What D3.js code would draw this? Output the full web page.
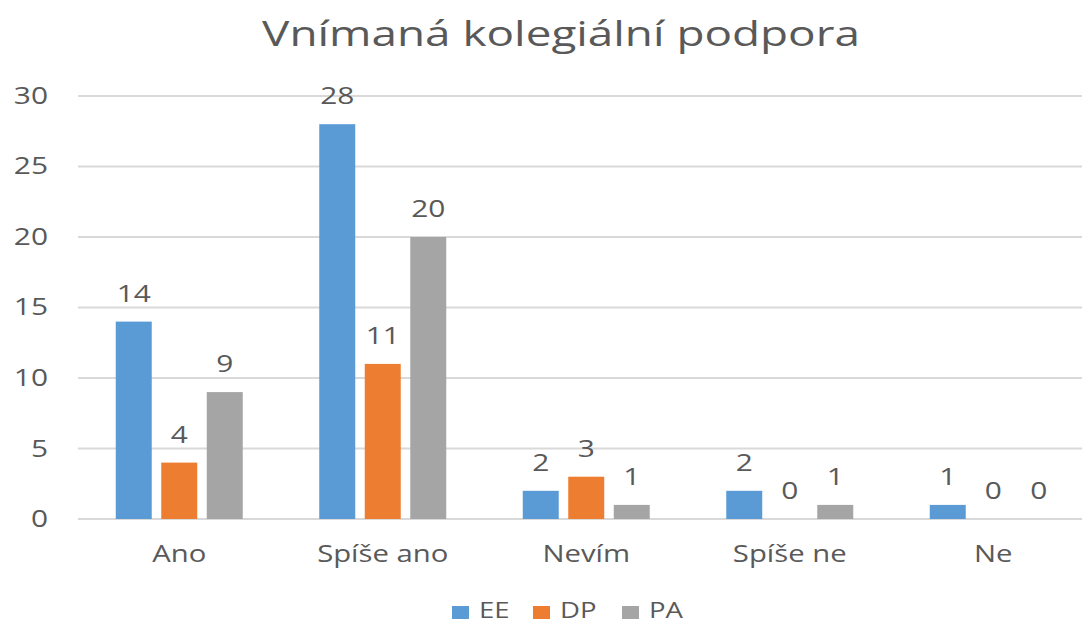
<!DOCTYPE html>
<html>
<head>
<meta charset="utf-8">
<script src="https://cdn.jsdelivr.net/npm/d3@7"></script>
<style>
  html, body { margin: 0; padding: 0; background: #fff; }
  svg { display: block; }
  text { font-family: "Open Sans", sans-serif; fill: #595959; }
</style>
</head>
<body>
<svg id="chart" width="1082" height="624"></svg>
<script>
const title = "Vnímaná kolegiální podpora";
const categories = ["Ano", "Spíše ano", "Nevím", "Spíše ne", "Ne"];
const seriesNames = ["EE", "DP", "PA"];
const valuesEE = [14, 28, 2, 2, 1];
const valuesDP = [4, 11, 3, 0, 0];
const valuesPA = [9, 20, 1, 1, 0];
const yTicks = [0, 5, 10, 15, 20, 25, 30];
const colors = ["#5B9BD5", "#ED7D31", "#A5A5A5"];

const seriesValues = [valuesEE, valuesDP, valuesPA];

const svg = d3.select("#chart");

const x0 = d3.scaleBand().domain(categories).range([77.5, 1095]).padding(0);
const x1 = d3.scaleBand().domain(seriesNames).range([-63.5, 63.5]).paddingInner(0.209).paddingOuter(0);
const y = d3.scaleLinear().domain([0, 30]).range([519, 96]);

// helper: horizontal stretch of text around its anchor
function stretch(sel, sx) {
  sel.each(function() {
    const t = d3.select(this);
    const ax = +t.attr("x"), ay = +t.attr("y");
    t.attr("transform", `translate(${ax},${ay}) scale(${sx},1) translate(${-ax},${-ay})`);
  });
}

// gridlines
svg.append("g")
  .selectAll("line")
  .data(yTicks)
  .join("line")
  .attr("x1", 78).attr("x2", 1095)
  .attr("y1", d => y(d)).attr("y2", d => y(d))
  .attr("stroke", "#D9D9D9").attr("stroke-width", 2);

// y axis labels
const yl = svg.append("g")
  .selectAll("text")
  .data(yTicks)
  .join("text")
  .attr("x", 48)
  .attr("y", d => y(d) + 8)
  .attr("text-anchor", "end")
  .attr("font-size", 23)
  .text(d => d);
stretch(yl, 1.3);

// bars
const groups = svg.append("g")
  .selectAll("g")
  .data(categories)
  .join("g")
  .attr("transform", c => `translate(${x0(c) + x0.bandwidth() / 2},0)`);

groups.selectAll("rect")
  .data((c, i) => seriesNames.map((s, j) => ({ s, j, v: seriesValues[j][i] })))
  .join("rect")
  .attr("x", d => x1(d.s))
  .attr("width", x1.bandwidth())
  .attr("y", d => y(d.v))
  .attr("height", d => y(0) - y(d.v))
  .attr("fill", d => colors[d.j]);

const dl = groups.selectAll("text")
  .data((c, i) => seriesNames.map((s, j) => ({ s, j, v: seriesValues[j][i] })))
  .join("text")
  .attr("x", d => x1(d.s) + x1.bandwidth() / 2)
  .attr("y", d => y(d.v) - 20)
  .attr("text-anchor", "middle")
  .attr("font-size", 23)
  .text(d => d.v);
stretch(dl, 1.3);

// category labels
const cl = svg.append("g")
  .selectAll("text")
  .data(categories)
  .join("text")
  .attr("x", c => x0(c) + x0.bandwidth() / 2)
  .attr("y", 562)
  .attr("text-anchor", "middle")
  .attr("font-size", 24)
  .text(c => c);
stretch(cl, 1.22);

// title
const tt = svg.append("text")
  .attr("x", 561)
  .attr("y", 46)
  .attr("text-anchor", "middle")
  .attr("font-size", 35)
  .text(title);
{
  const w = tt.node().getComputedTextLength();
  stretch(tt, 598 / w);
}

// legend
const legendX = [452, 533, 622];
const lg = svg.append("g")
  .selectAll("g")
  .data(seriesNames)
  .join("g");
lg.append("rect")
  .attr("x", (d, i) => legendX[i])
  .attr("y", 606)
  .attr("width", 17)
  .attr("height", 13)
  .attr("fill", (d, i) => colors[i]);
const lt = lg.append("text")
  .attr("x", (d, i) => legendX[i] + 27)
  .attr("y", 618)
  .attr("font-size", 22)
  .text(d => d);
stretch(lt, 1.25);
</script>
</body>
</html>
